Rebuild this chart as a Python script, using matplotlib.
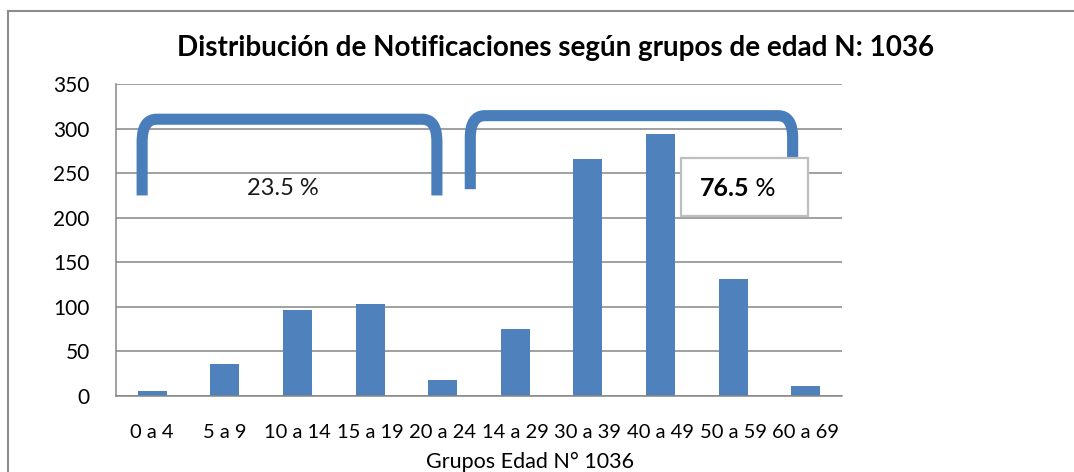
import matplotlib.pyplot as plt
import numpy as np
from matplotlib.path import Path
from matplotlib.patches import PathPatch, Rectangle

plt.rcParams['font.family'] = ['Lato', 'DejaVu Sans']

# data
grupos = ["0 a 4", "5 a 9", "10 a 14", "15 a 19", "20 a 24",
          "14 a 29", "30 a 39", "40 a 49", "50 a 59", "60 a 69"]
casos = [6, 36, 96, 103, 18, 75, 266, 294, 131, 11]
pct_jovenes = "23.5 %"
pct_adultos = "76.5"

bar_color = "#4F81BD"
grid_color = "#868686"

fig = plt.figure(figsize=(10.74, 4.72), dpi=100)
ax = fig.add_axes([0.108, 0.161, 0.676, 0.661])

x = np.arange(len(grupos))
ax.bar(x, casos, width=0.4, color=bar_color, zorder=2)

ax.set_xlim(-0.5, len(grupos) - 0.5)
ax.set_ylim(0, 350)
ax.set_yticks(np.arange(0, 351, 50))
ax.set_xticks(x)
ax.set_xticklabels(grupos)
ax.tick_params(axis='y', length=0, pad=19, labelsize=15)
ax.tick_params(axis='x', length=0, pad=20, labelsize=14.5)
ax.yaxis.grid(True, color=grid_color, linewidth=1.1, zorder=0)
ax.set_axisbelow(True)
for s in ["top", "right"]:
    ax.spines[s].set_visible(False)
for s in ["left", "bottom"]:
    ax.spines[s].set_color(grid_color)
    ax.spines[s].set_linewidth(1.1)


# rounded brackets marking the two age blocks
def bracket(x0, x1, ytop, ybot0, ybot1, rx=0.2, ry=25):
    verts = [(x0, ybot0), (x0, ytop - ry), (x0, ytop), (x0 + rx, ytop),
             (x1 - rx, ytop), (x1, ytop), (x1, ytop - ry), (x1, ybot1)]
    codes = [Path.MOVETO, Path.LINETO, Path.CURVE3, Path.CURVE3,
             Path.LINETO, Path.CURVE3, Path.CURVE3, Path.LINETO]
    patch = PathPatch(Path(verts, codes), fill=False, edgecolor="#4A7EBB",
                      linewidth=8, capstyle='butt', joinstyle='round',
                      zorder=3, clip_on=False)
    ax.add_patch(patch)


bracket(-0.14, 3.92, 310.5, 225, 225)
bracket(4.38, 8.82, 314.5, 232, 262)

ax.text(1.80, 233, pct_jovenes, ha='center', va='center', fontsize=17,
        color="#1A1A1A", zorder=4)

box = Rectangle((7.28, 202), 1.75, 65, facecolor='white', edgecolor="#BFBFBF",
                linewidth=1.6, zorder=5, clip_on=False)
ax.add_patch(box)
t = ax.text(8.22, 233, pct_adultos, ha='right', va='center', fontsize=18,
            fontweight='bold', color='black', zorder=6)
ax.annotate(" %", xycoords=t, xy=(1, 0), va='bottom', ha='left',
            fontsize=18, color='black', zorder=6)

fig.text(0.517, 0.898, "Distribución de Notificaciones según grupos de edad N: 1036",
         ha='center', va='center', fontsize=20, fontweight='bold')
fig.text(0.4935, 0.008, "Grupos Edad N° 1036", ha='center', va='baseline',
         fontsize=15.5)

# outer chart frame (top and left edges visible)
fig.add_artist(plt.Line2D([8 / 1074, 1], [1 - 11 / 472, 1 - 11 / 472],
                          color="#8C8C8C", linewidth=1.5))
fig.add_artist(plt.Line2D([8 / 1074, 8 / 1074], [0, 1 - 11 / 472],
                          color="#8C8C8C", linewidth=1.5))

fig.savefig("out.png", dpi=100)
